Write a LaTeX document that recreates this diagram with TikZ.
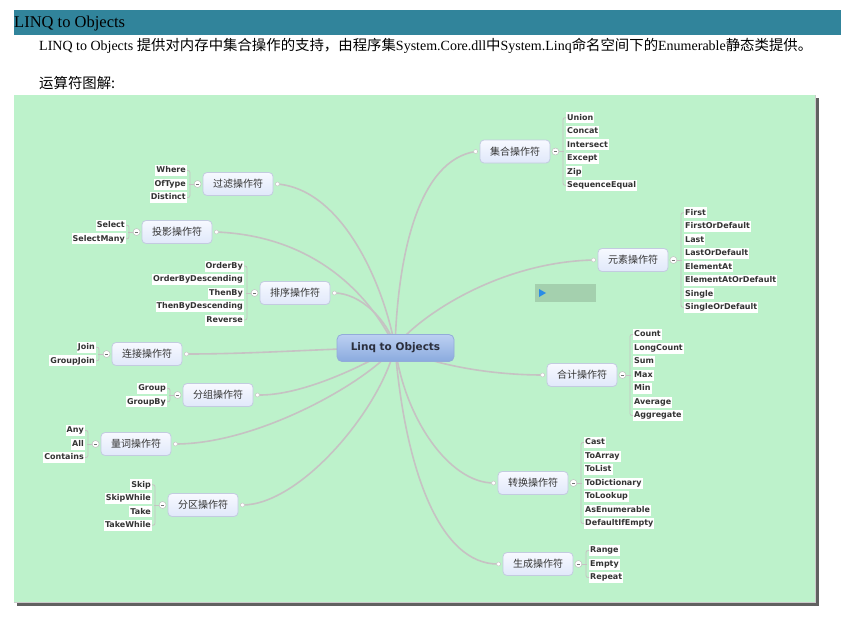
\documentclass[tikz,border=0pt]{standalone}
\usepackage{fontspec}
\setmainfont{Liberation Serif}
\newfontfamily\cjk{Noto Sans CJK SC}
\newfontfamily\dv{DejaVu Sans}
\usetikzlibrary{calc}
\definecolor{hdrteal}{HTML}{31849B}
\definecolor{panelgreen}{HTML}{BDF2CB}
\definecolor{conncol}{HTML}{C6C2C3}
\definecolor{catborder}{HTML}{C3CBE0}
\definecolor{cattop}{HTML}{F7F9FF}
\definecolor{catbot}{HTML}{E0E8FA}
\definecolor{hubtop}{HTML}{BCD0F2}
\definecolor{hubbot}{HTML}{8AAADE}
\definecolor{hubborder}{HTML}{93ACD9}
\definecolor{hubtext}{HTML}{2B2F3D}
\definecolor{greybox}{HTML}{A4D0AE}
\definecolor{playblue}{HTML}{2A8CE6}
\newcommand\zh[1]{{\cjk\fontsize{14.4}{16}\selectfont #1}}
\newcommand\minusbar{\textcolor{black!55}{\rule{3pt}{0.8pt}}}
\tikzset{
  catbox/.style={rounded corners=4pt, draw=catborder, line width=0.8pt,
    top color=cattop, bottom color=catbot, minimum width=70pt,
    minimum height=23pt, inner sep=0pt, text=black!80,
    font=\cjk\fontsize{10}{12}\selectfont},
  hubbox/.style={rounded corners=5pt, draw=hubborder, line width=0.8pt,
    top color=hubtop, bottom color=hubbot, minimum width=117pt,
    minimum height=27pt, inner sep=0pt, text=hubtext,
    font=\dv\bfseries\fontsize{10.5}{12}\selectfont},
  leafbox/.style={fill=white, inner xsep=1pt, inner ysep=1.4pt,
    text height=6.4pt, text depth=1.8pt, text=black!80,
    font=\dv\bfseries\fontsize{8}{9}\selectfont},
  minusdot/.style={circle, draw=black!25, fill=white, line width=0.5pt,
    minimum size=7pt, inner sep=0pt},
  enddot/.style={circle, draw=black!22, fill=white, line width=0.5pt,
    minimum size=4pt, inner sep=0pt},
  brk/.style={draw=conncol, line width=0.8pt},
  conn/.style={draw=conncol, line width=1.6pt},
}
\newcommand\catL[6]{%
  \node[catbox] (#1) at (#2,#3) {#4};
  \node[minusdot] (#1m) at ($(#1.west)+(-5,0)$) {\minusbar};
  \coordinate (#1d) at ($(#1.east)+(4,0)$);
  \foreach \t [count=\i] in {#5}
    \node[leafbox,anchor=east] (#1-\i) at ({#2-51},{#3-6.75*(#6-1)+13.5*(\i-1)}) {\t};
  \draw[brk,rounded corners=2pt] (#1-1.east) -| ($(#1-#6.east)+(3,0)$) -- (#1-#6.east);
  \draw[brk] (#1m.west) -- ($(#1m.west)+(-5,0)$);
}
\newcommand\catR[6]{%
  \node[catbox] (#1) at (#2,#3) {#4};
  \node[minusdot] (#1m) at ($(#1.east)+(5,0)$) {\minusbar};
  \coordinate (#1d) at ($(#1.west)+(-4,0)$);
  \foreach \t [count=\i] in {#5}
    \node[leafbox,anchor=west] (#1-\i) at ({#2+51},{#3-6.75*(#6-1)+13.5*(\i-1)}) {\t};
  \draw[brk,rounded corners=2pt] (#1-1.west) -| ($(#1-#6.west)+(-3,0)$) -- (#1-#6.west);
  \draw[brk] (#1m.east) -- ($(#1m.east)+(5,0)$);
}
\begin{document}
\begin{tikzpicture}[x=1pt,y=-1pt]
\useasboundingbox (0,0) rectangle (845,618);
\fill[white] (0,0) rectangle (845,618);
% header
\fill[hdrteal] (14,10) rectangle (841,35);
\node[anchor=base west, inner sep=0pt, font=\fontsize{16.5}{18}\selectfont] (title) at (14,28) {LINQ to Objects};
\node[anchor=base west, inner sep=0pt, font=\fontsize{14}{16}\selectfont] (intro) at (39,51)
  {LINQ to Objects \zh{提供对内存中集合操作的支持，由程序集}System.Core.dll\zh{中}System.Linq\zh{命名空间下的}Enumerable\zh{静态类提供。}};
\node[anchor=base west, inner sep=0pt, font=\fontsize{14}{16}\selectfont] (caption) at (39,88) {\zh{运算符图解:}};
% panel
\fill[black!62] (17,98) rectangle (819,606);
\fill[panelgreen] (14,95) rectangle (816,603);
\draw[black!20, line width=0.5pt] (815.5,95) -- (815.5,602.5) -- (14,602.5);
% small grey box
\fill[greybox] (535,284) rectangle (596,302);
\fill[playblue] (539,289) -- (546,293) -- (539,297) -- cycle;
% categories
\catL{F}{238}{184}{过滤操作符}{Where,OfType,Distinct}{3}
\catL{P}{177}{232}{投影操作符}{Select,SelectMany}{2}
\catL{S}{295}{293}{排序操作符}{OrderBy,OrderByDescending,ThenBy,ThenByDescending,Reverse}{5}
\catL{J}{147}{354}{连接操作符}{Join,GroupJoin}{2}
\catL{G}{218}{395}{分组操作符}{Group,GroupBy}{2}
\catL{Q}{136}{444}{量词操作符}{Any,All,Contains}{3}
\catL{R}{203}{505}{分区操作符}{Skip,SkipWhile,Take,TakeWhile}{4}
\catR{U}{515}{151.5}{集合操作符}{Union,Concat,Intersect,Except,Zip,SequenceEqual}{6}
\catR{E}{633}{260}{元素操作符}{First,FirstOrDefault,Last,LastOrDefault,ElementAt,ElementAtOrDefault,Single,SingleOrDefault}{8}
\catR{A}{582}{375}{合计操作符}{Count,LongCount,Sum,Max,Min,Average,Aggregate}{7}
\catR{T}{533}{483}{转换操作符}{Cast,ToArray,ToList,ToDictionary,ToLookup,AsEnumerable,DefaultIfEmpty}{7}
\catR{N}{538}{564}{生成操作符}{Range,Empty,Repeat}{3}
% connectors
\coordinate (hub) at (395,347);
\draw[conn] (hub) .. controls (385,290) and (345,190) .. (Fd);
\draw[conn] (hub) .. controls (370,295) and (315,236) .. (Pd);
\draw[conn] (hub) .. controls (388,320) and (360,293) .. (Sd);
\draw[conn] (hub) .. controls (398,250) and (420,160) .. (Ud);
\draw[conn] (hub) .. controls (420,315) and (500,262) .. (Ed);
\draw[conn] (hub) .. controls (440,368) and (500,375) .. (Ad);
\draw[conn] (hub) .. controls (300,350) and (250,354) .. (Jd);
\draw[conn] (hub) .. controls (360,368) and (300,396) .. (Gd);
\draw[conn] (hub) .. controls (370,380) and (260,444) .. (Qd);
\draw[conn] (hub) .. controls (380,410) and (300,505) .. (Rd);
\draw[conn] (hub) .. controls (405,420) and (450,483) .. (Td);
\draw[conn] (hub) .. controls (405,470) and (440,565) .. (Nd);
\foreach \n in {F,P,S,J,G,Q,R,U,E,A,T,N}
  \node[enddot] (\n dot) at (\n d) {};
% central topic
\node[hubbox] (center) at (395.5,348) {Linq to Objects};
\end{tikzpicture}
\end{document}
